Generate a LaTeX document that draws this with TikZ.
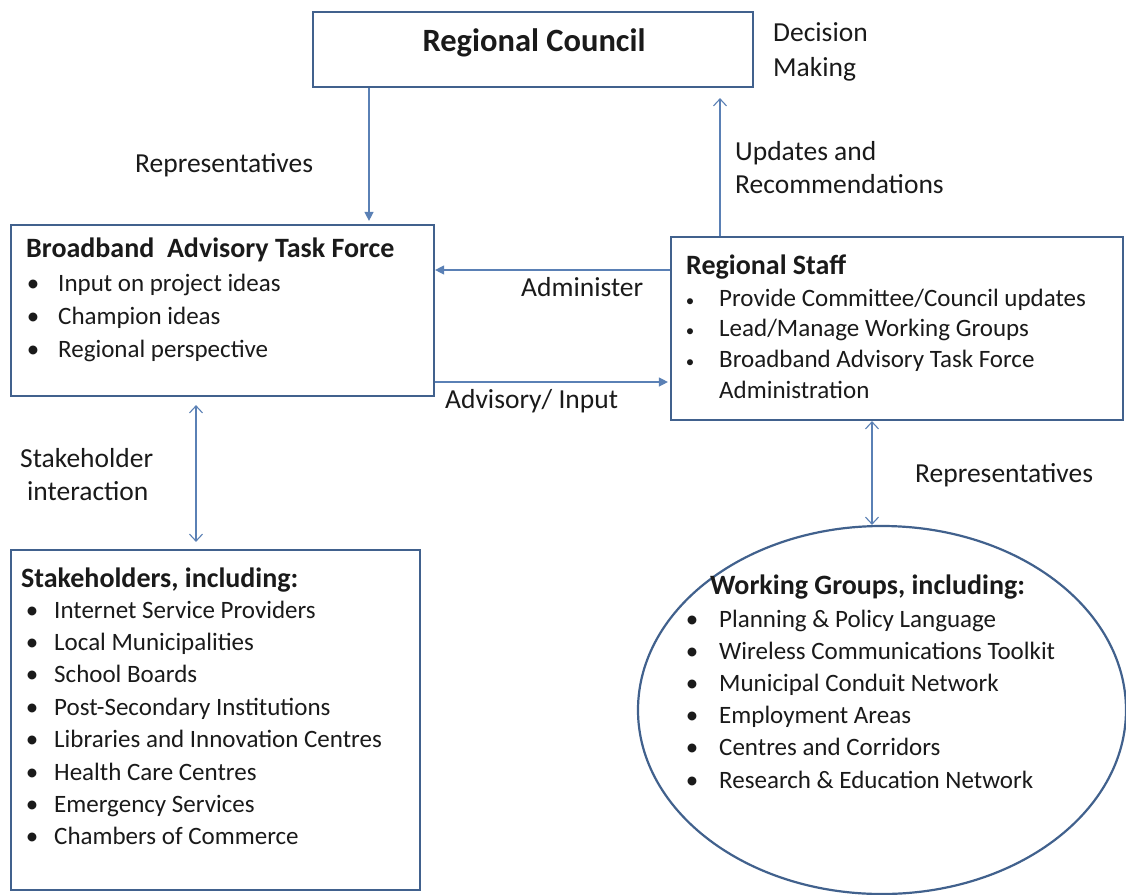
\documentclass[tikz,border=0pt]{standalone}
\usepackage{fontspec}
\setmainfont{Carlito}
\usetikzlibrary{arrows.meta,shapes.geometric}
\definecolor{boxc}{HTML}{41618D}
\definecolor{arrc}{HTML}{5A80B5}
\definecolor{txtc}{HTML}{1A1A1A}
\begin{document}
\begin{tikzpicture}[x=1pt,y=-1pt,
 boxst/.style={draw=boxc,line width=2.2pt,rectangle,inner sep=0pt},
 ellst/.style={draw=boxc,line width=2.2pt,ellipse,inner sep=0pt},
 farrow/.style={draw=arrc,line width=1.3pt,-{Triangle[length=9pt,width=9pt]}},
 oarrow/.style={draw=arrc,line width=1.1pt,{Straight Barb[length=7pt,width=13pt]}-{Straight Barb[length=7pt,width=13pt]}},
 oarrowend/.style={draw=arrc,line width=1.1pt,-{Straight Barb[length=7pt,width=13pt]}},
 lbl/.style={anchor=base west,inner sep=0pt,text=txtc,font=\fontsize{27.5}{33}\selectfont},
 hdr/.style={anchor=base west,inner sep=0pt,text=txtc,font=\fontsize{28}{33}\selectfont\bfseries},
 itm/.style={anchor=base west,inner sep=0pt,text=txtc,font=\fontsize{25}{30}\selectfont},
 bul/.style={anchor=base,inner sep=0pt,text=txtc,font=\fontsize{25}{30}\selectfont},
 sbul/.style={anchor=base,inner sep=0pt,text=txtc,font=\fontsize{17}{20}\selectfont},
]
\useasboundingbox (0,0) rectangle (1126,894);
\fill[white] (0,0) rectangle (1126,894);

% boxes
\node[boxst,minimum width=440pt,minimum height=75pt] (rc) at (533,49.5) {};
\node[boxst,minimum width=423pt,minimum height=171pt] (batf) at (222.5,310.5) {};
\node[boxst,minimum width=452pt,minimum height=183pt] (rs) at (897,328.5) {};
\node[boxst,minimum width=409pt,minimum height=340pt] (sh) at (215.5,720) {};
\node[ellst,minimum width=488pt,minimum height=368pt] (wg) at (882,710) {};

% Regional Council
\node[anchor=base,inner sep=0pt,text=txtc,font=\fontsize{32.5}{38}\selectfont\bfseries] (rct) at (534,51.5) {Regional Council};
\node[lbl] (dec1) at (773,41.5) {Decision};
\node[lbl] (dec2) at (773,76.5) {Making};

% BATF
\node[hdr] (batfh) at (26,257) {Broadband\ \ Advisory Task Force};
\foreach \t [count=\i] in {Input on project ideas, Champion ideas, Regional perspective}{
  \node[bul] (batfb\i) at (33,{291.5+33*(\i-1)}) {•};
  \node[itm] (batfi\i) at (58,{291.5+33*(\i-1)}) {\t};
}

% Regional Staff
\node[hdr] (rsh) at (686,274) {Regional Staff};
\foreach \t [count=\i] in {Provide Committee/Council updates, Lead/Manage Working Groups, Broadband Advisory Task Force}{
  \node[sbul] (rsb\i) at (690,{306+30.7*(\i-1)}) {•};
  \node[itm] (rsi\i) at (719,{306+30.7*(\i-1)}) {\t};
}
\node[itm] (rsi4) at (719,398) {Administration};

% Stakeholders
\node[hdr] (shh) at (21,587) {Stakeholders, including:};
\foreach \t [count=\i] in {Internet Service Providers, Local Municipalities, School Boards, Post-Secondary Institutions, Libraries and Innovation Centres, Health Care Centres, Emergency Services, Chambers of Commerce}{
  \node[bul] (shb\i) at (32,{618+32.4*(\i-1)}) {•};
  \node[itm] (shi\i) at (54,{618+32.4*(\i-1)}) {\t};
}

% Working Groups
\node[hdr] (wgh) at (710,594) {Working Groups, including:};
\foreach \t [count=\i] in {Planning \& Policy Language, Wireless Communications Toolkit, Municipal Conduit Network, Employment Areas, Centres and Corridors, Research \& Education Network}{
  \node[bul] (wgb\i) at (692,{627+32.2*(\i-1)}) {•};
  \node[itm] (wgi\i) at (719,{627+32.2*(\i-1)}) {\t};
}

% connector labels
\node[lbl] (rep1) at (135,172) {Representatives};
\node[lbl] (upd1) at (735,160) {Updates and};
\node[lbl] (upd2) at (735,193) {Recommendations};
\node[lbl] (adm) at (521,296) {Administer};
\node[lbl] (adv) at (445,408) {Advisory/ Input};
\node[lbl] (sti1) at (20,467) {Stakeholder};
\node[lbl] (sti2) at (27,500) {interaction};
\node[lbl] (rep2) at (915,482) {Representatives};

% connectors
\coordinate (xa) at (369,0);
\coordinate (xb) at (720,0);
\coordinate (ya) at (0,270);
\coordinate (yb) at (0,382);
\coordinate (xc) at (196,0);
\coordinate (xd) at (872,0);
\draw[farrow] (rc.south -| xa) -- ([yshift=3pt]batf.north -| xa);
\draw[oarrowend,shorten >=10pt] (rs.north -| xb) -- (rc.south -| xb);
\draw[farrow] (rs.west |- ya) -- (batf.east |- ya);
\draw[farrow,shorten >=2pt] (batf.east |- yb) -- (rs.west |- yb);
\draw[oarrow,shorten <=8pt,shorten >=7pt] (batf.south -| xc) -- (sh.north -| xc);
\draw[oarrow] (rs.south -| xd) -- (wg.north -| xd);
\end{tikzpicture}
\end{document}
